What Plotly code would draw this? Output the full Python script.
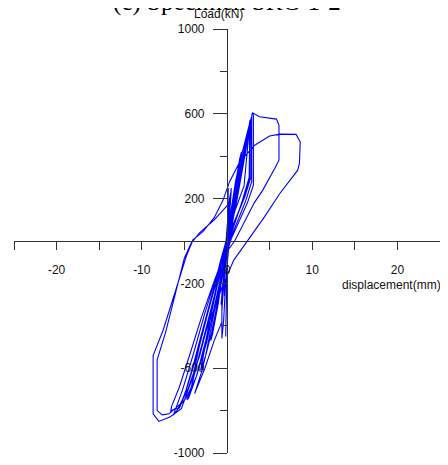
import plotly.graph_objects as go

# ---- data (displacement in mm, load in kN) ----
d_small = [0, 0.2, 0.4, 0.5, 0.3, 0.0, -0.3, -0.5, -0.6, -0.4, -0.1, 0.0, 0.3, 0.45, 0.5, 0.35, 0.05,
           -0.3, -0.6, -0.7, -0.5, -0.2, 0.0, 0.1, 0.15, 0.1, 0.0, -0.1, -0.2, -0.15, -0.05, 0.05]
L_small = [0, 80, 180, 240, 200, 60, -80, -200, -260, -220, -90, -10, 120, 220, 250, 180, 40,
           -120, -260, -300, -250, -110, 0, 150, 250, 120, 0, -200, -400, -450, -250, -50]

d_mid = [0.3, 0.9, 1.4, 1.7, 1.5, 0.9, 0.3, -0.3, -0.9, -1.5, -1.9, -1.7, -1.0, -0.5, 0.0,
         0.6, 1.1, 1.0, 0.5, 0.0, -0.3, -0.6, -0.6, -0.4, -0.1]
L_mid = [60, 220, 350, 420, 390, 250, 90, -60, -230, -380, -470, -440, -290, -150, -20,
         150, 300, 280, 150, 20, -150, -330, -460, -380, -150]

d_c3 = [0.5, 1.2, 2.0, 2.6, 2.65, 2.65, 2.0, 1.0, 0.2, -0.5, -1.2, -2.2, -3.0, -3.1, -2.5, -1.6,
        -0.8, -0.3, 0.3, 1.0, 1.8, 2.5, 2.7, 2.6, 1.8, 0.8, 0.0, -0.6, -0.6, -1.5, -2.6, -3.6,
        -3.8, -3.0, -1.8, -0.9, -0.3]
L_c3 = [80, 230, 400, 540, 560, 290, 200, 110, 30, -60, -200, -420, -580, -610, -540, -360,
        -200, -90, 40, 200, 380, 520, 570, 300, 190, 70, -30, -246, -382, -470, -600, -700,
        -720, -620, -430, -250, -100]

d_c4a = [0.3, 1.0, 1.8, 2.4, 2.8, 2.8, 2.1, 1.2, 0.3, -0.4, -1.3, -2.5, -3.6, -4.5, -4.7,
         -4.2, -3.4, -2.4, -1.3, -0.5, -0.3, -0.3, 0.2, 1.0, 1.9, 2.5, 2.6, 2.0, 1.0, 0.1,
         -0.8, -2.0, -3.4, -4.6, -5.5, -5.6, -5.0, -4.0, -2.8, -1.6, -0.6]
L_c4a = [50, 210, 390, 510, 570, 300, 210, 120, 20, -70, -240, -470, -640, -740, -750,
         -690, -560, -400, -230, -120, -100, -260, -30, 180, 380, 500, 520, 260, 150, 30,
         -100, -300, -520, -680, -780, -790, -730, -590, -410, -240, -80]

d_c4 = [0.4, 1.2, 2.0, 2.6, 2.95, 3.1, 3.1, 2.4, 1.4, 0.5, -0.3, -1.2, -2.4, -3.6, -4.8, -5.8,
        -6.6, -6.5, -5.6, -4.4, -3.0, -1.6, -0.5, 0.3, 1.2, 2.1, 2.7, 2.9, 2.9, 2.2, 1.2, 0.3,
        -0.6, -1.8, -3.2, -4.6, -5.7, -6.3, -6.1, -5.2, -4.0, -2.6, -1.2, -0.3]
L_c4 = [40, 200, 380, 520, 600, 595, 263, 180, 90, 10, -90, -260, -480, -640, -740, -790,
        -800, -780, -690, -540, -360, -200, -80, 40, 230, 420, 560, 585, 280, 190, 90, 0,
        -110, -320, -540, -700, -790, -822, -800, -700, -540, -340, -160, -40]

d_c5 = [0.2, 1.0, 1.8, 2.5, 3.0, 3.8, 5.0, 5.8, 6.1, 6.1, 5.6, 4.8, 4.2, 3.2, 2.4, 1.5, 0.9,
        -0.2, -1.3, -3.0, -4.0, -5.35, -6.7, -8.0, -8.67, -8.67, -7.5, -6.0, -4.8, -4.0, -2.8,
        -1.5, -0.46, 0.3, 1.5, 3.25, 5.0, 6.2, 8.1, 8.6, 8.5, 8.3, 6.2, 4.4, 2.4, 0.8, -0.6,
        -2.5, -4.0, -5.5, -6.8, -7.6, -8.2, -8.2, -7.2, -5.8, -5.0, -4.2, -3.2, -1.5, 0.1]
L_c5 = [60, 250, 420, 530, 605, 586, 580, 575, 547, 381, 342, 287, 240, 180, 120, 50, 0,
        -60, -200, -450, -640, -791, -830, -851, -815, -540, -421, -230, -75, 5, 45,
        110, 193, 280, 373, 452, 495, 504, 503, 468, 366, 334, 224, 114, 0, -90, -220,
        -430, -650, -770, -815, -820, -800, -560, -430, -200, -80, -10, 40, 100, 170]

disp = d_small + d_mid + d_c3 + d_c4a + d_c4 + d_c5
load = L_small + L_mid + L_c3 + L_c4a + L_c4 + L_c5

x_major = [-20, -10, 0, 10, 20]
x_minor = [-25, -15, -5, 5, 15, 25]
y_major = [-1000, -600, -200, 200, 600, 1000]
y_minor = [-800, -400, 0, 400, 800]

fig = go.Figure(go.Scatter(x=disp, y=load, mode="lines",
                           line=dict(color="#0000FF", width=1.1), showlegend=False))

axis_font = dict(family="Liberation Sans, Arial, sans-serif", size=12, color="#111")
fig.update_layout(
    width=440, height=457,
    margin=dict(l=6, r=8, t=21, b=12, autoexpand=False),
    plot_bgcolor="white", paper_bgcolor="white",
    xaxis=dict(range=[-25, 25], anchor="free", position=0.5, showgrid=False, zeroline=False,
               showline=True, linecolor="#333", linewidth=1.2,
               tickvals=x_major, ticktext=[str(v) for v in x_major], ticks="outside", ticklen=8,
               tickcolor="#333", tickfont=axis_font, ticklabelstandoff=9,
               minor=dict(tickvals=x_minor, ticks="outside", ticklen=8, tickcolor="#333")),
    yaxis=dict(range=[-1000, 1000], anchor="free", position=0.5, showgrid=False, zeroline=False,
               showline=True, linecolor="#333", linewidth=1.2,
               tickvals=y_major, ticktext=[str(v) for v in y_major], ticks="outside", ticklen=14,
               tickcolor="#333", tickfont=axis_font, ticklabelstandoff=6,
               minor=dict(tickvals=y_minor, ticks="outside", ticklen=7, tickcolor="#333")),
    annotations=[
        dict(text="Load(kN)", xref="paper", yref="paper", x=0.481, y=1.0 + 15 / 424,
             xanchor="center", yanchor="middle", showarrow=False, font=axis_font),
        dict(text="displacement(mm)", xref="paper", yref="paper", x=1.007, y=0.396,
             xanchor="right", yanchor="middle", showarrow=False, font=axis_font),
        dict(text="(c) Specimen SRC-1-2", xref="paper", yref="paper", x=0.501, y=1.0 + 11 / 424,
             xanchor="center", yanchor="bottom", showarrow=False,
             font=dict(family="Liberation Serif, Times New Roman, serif", size=25, color="black")),
    ],
)

fig.write_html("out.html")
